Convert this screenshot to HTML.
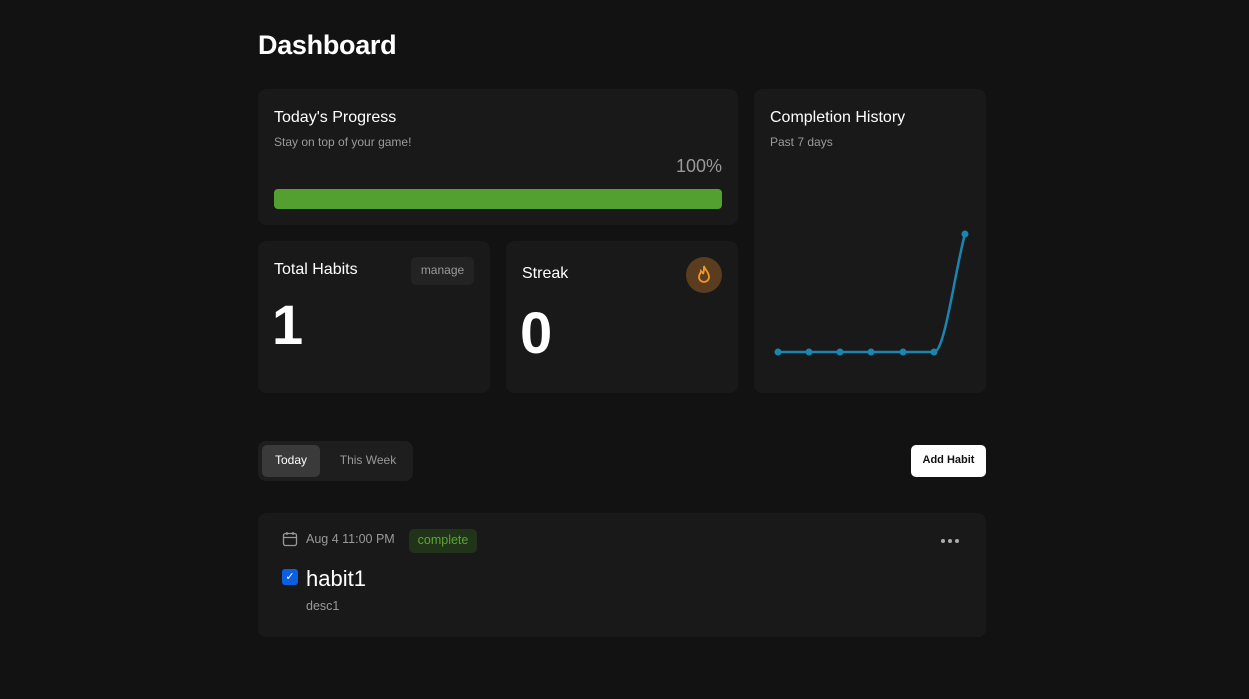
<!DOCTYPE html>
<html><head><style>
body{margin:0;width:1249px;height:699px;background:#121212;font-family:"Liberation Sans",sans-serif;color:#fff;position:relative;overflow:hidden}
.a{position:absolute}
.card{position:absolute;background:#191919;border-radius:8px}
.d{position:absolute;width:4px;height:4px;border-radius:50%;background:#aaa;top:539px}
</style></head><body>
<div class="a" style="left:258px;top:30px;font-size:27px;font-weight:bold;letter-spacing:-0.3px">Dashboard</div>

<div class="card" style="left:258px;top:89px;width:480px;height:136px"></div>
<div class="a" style="left:274px;top:109px;font-size:16px">Today's Progress</div>
<div class="a" style="left:274px;top:135px;font-size:12px;color:#9a9a9a">Stay on top of your game!</div>
<div class="a" style="left:660px;top:156px;width:62px;text-align:right;font-size:18px;color:#999">100%</div>
<div class="a" style="left:274px;top:189px;width:448px;height:20px;background:#53a030;border-radius:4px"></div>

<div class="card" style="left:258px;top:241px;width:232px;height:152px"></div>
<div class="a" style="left:274px;top:261px;font-size:16px">Total Habits</div>
<div class="a" style="left:411px;top:257px;width:63px;height:28px;background:#232323;border-radius:5px;color:#999;font-size:12px;line-height:27px;text-align:center">manage</div>
<div class="a" style="left:272px;top:292px;font-size:56px;font-weight:bold">1</div>

<div class="card" style="left:506px;top:241px;width:232px;height:152px"></div>
<div class="a" style="left:522px;top:265px;font-size:16px">Streak</div>
<div class="a" style="left:686px;top:257px;width:36px;height:36px;border-radius:50%;background:#5a3d1f"></div>
<svg class="a" style="left:694px;top:264px" width="20" height="22" viewBox="0 0 20 22"><path d="M10 2c1 4 5 6 5 11a5 5 0 0 1-10 0c0-3 2-4 2-6 1 1 2 2 2 3 1-2 1-5 1-8z" fill="none" stroke="#f0962a" stroke-width="1.8"/></svg>
<div class="a" style="left:520px;top:300px;font-size:58px;font-weight:bold">0</div>

<div class="card" style="left:754px;top:89px;width:232px;height:304px"></div>
<div class="a" style="left:770px;top:109px;font-size:16px">Completion History</div>
<div class="a" style="left:770px;top:135px;font-size:12px;color:#9a9a9a">Past 7 days</div>
<svg class="a" style="left:0;top:0" width="1249" height="699">
<path d="M778 352H934C945 352 955 270 965 234" fill="none" stroke="#1a86b0" stroke-width="2.5"/>
<g fill="#1a86b0"><circle cx="778" cy="352" r="3.5"/><circle cx="809" cy="352" r="3.5"/><circle cx="840" cy="352" r="3.5"/><circle cx="871" cy="352" r="3.5"/><circle cx="903" cy="352" r="3.5"/><circle cx="934" cy="352" r="3.5"/><circle cx="965" cy="234" r="3.5"/></g>
</svg>

<div class="a" style="left:258px;top:441px;width:155px;height:40px;background:#1e1e1e;border-radius:8px"></div>
<div class="a" style="left:262px;top:445px;width:58px;height:32px;background:#3a3a3a;border-radius:5px;font-size:12px;line-height:31px;text-align:center">Today</div>
<div class="a" style="left:328px;top:445px;width:80px;height:32px;font-size:12px;line-height:31px;text-align:center;color:#999">This Week</div>
<div class="a" style="left:911px;top:445px;width:75px;height:32px;background:#fff;border-radius:5px;color:#111;font-size:11px;font-weight:bold;line-height:30px;text-align:center">Add Habit</div>

<div class="card" style="left:258px;top:513px;width:728px;height:124px"></div>
<svg class="a" style="left:282px;top:531px" width="16" height="16" viewBox="0 0 16 16"><rect x="1.5" y="2.5" width="13" height="12" rx="2" fill="none" stroke="#999" stroke-width="1.3"/><path d="M1.5 6.5h13M5 1v3M11 1v3" stroke="#999" stroke-width="1.3"/></svg>
<div class="a" style="left:306px;top:532px;font-size:12.5px;color:#999">Aug 4 11:00 PM</div>
<div class="a" style="left:409px;top:529px;width:68px;height:24px;background:#213318;border-radius:5px;color:#5aa535;font-size:12.5px;line-height:23px;text-align:center">complete</div>
<div class="d" style="left:941px"></div><div class="d" style="left:948px"></div><div class="d" style="left:955px"></div>
<div class="a" style="left:282px;top:569px;width:16px;height:16px;background:#0d5fe0;border-radius:3px;color:#fff;font-size:11px;line-height:16px;text-align:center">✓</div>
<div class="a" style="left:306px;top:566px;font-size:22px">habit1</div>
<div class="a" style="left:306px;top:599px;font-size:12.5px;color:#999">desc1</div>
</body></html>
